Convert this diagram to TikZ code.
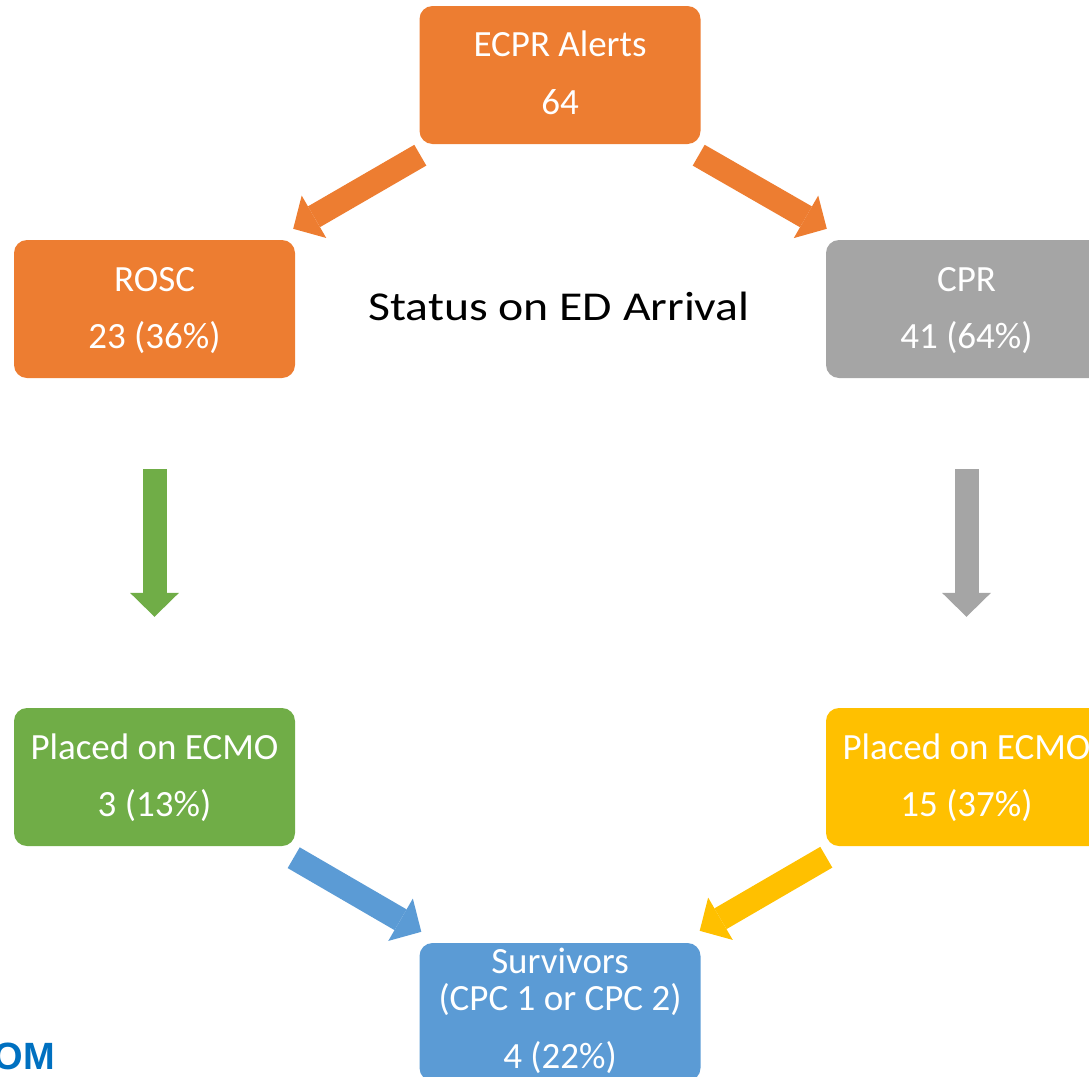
\documentclass[tikz,border=0pt]{standalone}
\usepackage{fontspec}
\setmainfont{Carlito}
\newfontfamily\arialfont{Liberation Sans}
\usetikzlibrary{calc,arrows.meta}
\definecolor{cOrange}{HTML}{ED7D31}
\definecolor{cGray}{HTML}{A5A5A5}
\definecolor{cGreen}{HTML}{70AD47}
\definecolor{cYellow}{HTML}{FFC000}
\definecolor{cBlue}{HTML}{5B9BD5}
\definecolor{cLogo}{HTML}{0070C0}
\tikzset{
  box/.style={rectangle, rounded corners=13pt, fill=#1, draw=none,
    minimum width=281pt, minimum height=138pt, inner sep=0pt},
  lbl/.style={anchor=base, inner sep=0pt, text=white,
    font=\fontsize{37}{37}\selectfont},
  bigarrow/.style={draw=#1, line width=24pt,
    -{Triangle[length=24pt,width=49pt,line width=0pt,fill=#1]}},
}
\begin{document}
\begin{tikzpicture}[x=1pt,y=-1pt]
\useasboundingbox (0,0) rectangle (1089,1076);
\clip (0,0) rectangle (1089,1076);
% boxes
\node[box=cOrange] (alerts) at (560,75) {};
\node[box=cOrange] (rosc) at (154.5,309) {};
\node[box=cGray] (cpr) at (966.5,309) {};
\node[box=cGreen] (ecmoL) at (154.5,777) {};
\node[box=cYellow] (ecmoR) at (966.5,777) {};
\node[box=cBlue] (surv) at (560,1012) {};
% labels
\node[lbl] (alertsA) at (560,56) {ECPR Alerts};
\node[lbl] (alertsB) at (560,114) {64};
\node[lbl] (roscA) at (154.5,291) {ROSC};
\node[lbl] (roscB) at (154.5,348) {23 (36\%)};
\node[lbl] (cprA) at (966.5,291) {CPR};
\node[lbl] (cprB) at (966.5,348) {41 (64\%)};
\node[lbl] (ecmoLA) at (154.5,759) {Placed on ECMO};
\node[lbl] (ecmoLB) at (154.5,816) {3 (13\%)};
\node[lbl] (ecmoRA) at (966.5,759) {Placed on ECMO};
\node[lbl] (ecmoRB) at (966.5,816) {15 (37\%)};
\node[lbl] (survA) at (560,973) {Survivors};
\node[lbl] (survB) at (560,1010) {(CPC 1 or CPC 2)};
\node[lbl] (survC) at (560,1068) {4 (22\%)};
\node[anchor=base, inner sep=0pt, font=\fontsize{41}{41}\selectfont] (title) at (559,320) {\scalebox{1.165}[1]{Status on ED Arrival}};
\node[anchor=base east, inner sep=0pt, text=cLogo, font=\arialfont\bfseries\fontsize{38}{38}\selectfont] (logo) at (55,1069) {OM};
% arrows
\draw[bigarrow=cOrange] ($(alerts.south west)+(1,11)$) -- ($(rosc.north east)+(-2,-11)$);
\draw[bigarrow=cOrange] ($(alerts.south east)+(-2,11)$) -- ($(cpr.north west)+(1,-11)$);
\draw[bigarrow=cGreen] ($(rosc.south)+(0,91)$) -- ($(ecmoL.north)+(0,-91)$);
\draw[bigarrow=cGray] ($(cpr.south)+(0,91)$) -- ($(ecmoR.north)+(0,-91)$);
\draw[bigarrow=cBlue] ($(ecmoL.south east)+(-1.5,11.5)$) -- ($(surv.north west)+(2,-11)$);
\draw[bigarrow=cYellow] ($(ecmoR.south west)+(0.5,11)$) -- ($(surv.north east)+(-1,-12)$);
\end{tikzpicture}
\end{document}
